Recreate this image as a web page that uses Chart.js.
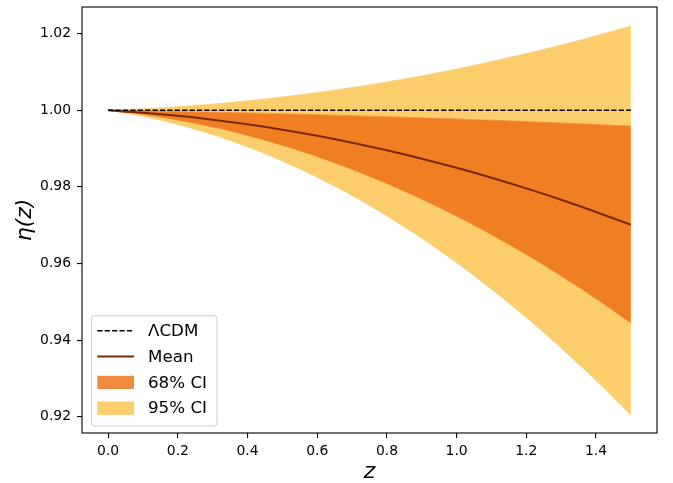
<!DOCTYPE html>
<html>
<head>
<meta charset="utf-8">
<script src="https://cdn.jsdelivr.net/npm/chart.js@4/dist/chart.umd.min.js"></script>
<style>
  html, body { margin: 0; padding: 0; background: #ffffff; }
  #wrap { width: 673px; height: 483px; }
</style>
</head>
<body>
<div id="wrap"><canvas id="c" width="673" height="483"></canvas></div>
<script>
// ---- data ----
const zValues   = [0.0, 0.1, 0.2, 0.3, 0.4, 0.5, 0.6, 0.7, 0.8, 0.9, 1.0, 1.1, 1.2, 1.3, 1.4, 1.5];
const meanEta   = [1.0000, 0.99938, 0.99857, 0.99756, 0.99635, 0.99494, 0.99335, 0.99155, 0.98956, 0.98737, 0.98498, 0.98240, 0.97961, 0.97664, 0.97346, 0.97010];
const upper68   = [1.0000, 0.99986, 0.99970, 0.99951, 0.99931, 0.99910, 0.99886, 0.99860, 0.99833, 0.99804, 0.99773, 0.99740, 0.99705, 0.99669, 0.99630, 0.99590];
const lower68   = [1.0000, 0.99892, 0.99746, 0.99564, 0.99343, 0.99085, 0.98790, 0.98457, 0.98088, 0.97679, 0.97235, 0.96753, 0.96233, 0.95676, 0.95081, 0.94450];
const upper95   = [1.0000, 1.00039, 1.00093, 1.00162, 1.00247, 1.00347, 1.00463, 1.00595, 1.00741, 1.00903, 1.01081, 1.01274, 1.01483, 1.01706, 1.01946, 1.02200];
const lower95   = [1.0000, 0.99841, 0.99629, 0.99363, 0.99045, 0.98673, 0.98249, 0.97772, 0.97240, 0.96657, 0.96020, 0.95330, 0.94587, 0.93791, 0.92942, 0.92040];
const lcdmZ     = [0.0, 1.5];
const lcdmEta   = [1.0, 1.0];
const xTicks      = [0.0, 0.2, 0.4, 0.6, 0.8, 1.0, 1.2, 1.4];
const xTickLabels = ['0.0', '0.2', '0.4', '0.6', '0.8', '1.0', '1.2', '1.4'];
const yTicks      = [0.92, 0.94, 0.96, 0.98, 1.00, 1.02];
const yTickLabels = ['0.92', '0.94', '0.96', '0.98', '1.00', '1.02'];
const legendLabels = ['\u039BCDM', 'Mean', '68% CI', '95% CI'];
const xTitle = 'z';
const yTitle = '\u03B7(z)';

// ---- styles ----
const C95 = '#fccd6b', C95legend = '#fdce6c', C95edge = '#fdd07a';
const C68 = '#ef7f22', C68legend = '#f08a3c', C68edge = '#f3914a';
const CMEAN = '#7a2806';
const FONT = "'DejaVu Sans', sans-serif";

function pts(xs, ys) { return xs.map((x, i) => ({ x: x, y: ys[i] })); }

const framePlugin = {
  id: 'frame',
  afterDraw(chart) {
    const ctx = chart.ctx, a = chart.chartArea;
    ctx.save();
    ctx.strokeStyle = '#000000';
    ctx.lineWidth = 1.1;
    ctx.strokeRect(a.left, a.top, a.right - a.left, a.bottom - a.top);
    ctx.restore();
  }
};

const legendPlugin = {
  id: 'customLegend',
  afterDraw(chart) {
    const ctx = chart.ctx, a = chart.chartArea;
    const bx = a.left + 9.5, by = 315.7, bw = 125.5, bh = 110.3, r = 3;
    ctx.save();
    ctx.beginPath();
    ctx.roundRect(bx, by, bw, bh, r);
    ctx.fillStyle = 'rgba(255,255,255,0.8)';
    ctx.fill();
    ctx.strokeStyle = '#cccccc';
    ctx.lineWidth = 1;
    ctx.stroke();

    const hx0 = a.left + 15.3, hx1 = a.left + 52;
    const tx = a.left + 66;
    const y0 = 330.8, dy = 25.8;
    ctx.font = '16.7px ' + FONT;
    ctx.textBaseline = 'middle';
    ctx.textAlign = 'left';
    legendLabels.forEach((lab, i) => {
      const y = y0 + i * dy;
      if (i === 0) {
        ctx.beginPath();
        ctx.setLineDash([5.2, 2.2]);
        ctx.strokeStyle = '#000000';
        ctx.lineWidth = 1.4;
        ctx.moveTo(hx0, y); ctx.lineTo(hx1, y); ctx.stroke();
        ctx.setLineDash([]);
      } else if (i === 1) {
        ctx.beginPath();
        ctx.strokeStyle = CMEAN;
        ctx.lineWidth = 2;
        ctx.moveTo(hx0, y); ctx.lineTo(hx1, y); ctx.stroke();
      } else {
        ctx.fillStyle = i === 2 ? C68legend : C95legend;
        ctx.fillRect(hx0, y - 6.6, hx1 - hx0, 13.2);
      }
      ctx.fillStyle = '#000000';
      ctx.fillText(lab, tx, y + 0.8);
    });
    ctx.restore();
  }
};

new Chart(document.getElementById('c'), {
  type: 'line',
  data: {
    datasets: [
      { label: legendLabels[0], data: pts(lcdmZ, lcdmEta), borderColor: '#000000', borderWidth: 1.4,
        borderDash: [5.2, 2.2], pointRadius: 0, fill: false, tension: 0 },
      { label: legendLabels[1], data: pts(zValues, meanEta), borderColor: CMEAN, borderWidth: 2,
        pointRadius: 0, fill: false, tension: 0.4 },
      { label: legendLabels[2], data: pts(zValues, upper68), borderColor: C68edge, borderWidth: 0.8,
        backgroundColor: C68, pointRadius: 0, fill: '+1', tension: 0.4 },
      { label: '68 lower', data: pts(zValues, lower68), borderColor: C68edge, borderWidth: 0.8,
        pointRadius: 0, fill: false, tension: 0.4 },
      { label: legendLabels[3], data: pts(zValues, upper95), borderColor: C95edge, borderWidth: 0.8,
        backgroundColor: C95, pointRadius: 0, fill: '+1', tension: 0.4 },
      { label: '95 lower', data: pts(zValues, lower95), borderColor: C95edge, borderWidth: 0.8,
        pointRadius: 0, fill: false, tension: 0.4 }
    ]
  },
  options: {
    responsive: false,
    animation: false,
    devicePixelRatio: 1,
    layout: { padding: { left: 0, top: 7, right: 16, bottom: 0 } },
    plugins: { legend: { display: false }, tooltip: { enabled: false } },
    scales: {
      x: {
        type: 'linear', min: -0.075, max: 1.575,
        afterFit: s => { s.height = 50; s.paddingLeft = 0; s.paddingRight = 0; },
        afterBuildTicks: s => { s.ticks = xTicks.map(v => ({ value: v })); },
        border: { display: false },
        grid: { display: true, drawOnChartArea: false, drawTicks: true, tickLength: 5, color: '#000000', lineWidth: 1.1 },
        ticks: { callback: (v, i) => xTickLabels[i], color: '#000000', padding: 5, maxRotation: 0, autoSkip: false,
                 font: { family: FONT, size: 13.9, lineHeight: 1.2 } },
        title: { display: true, text: xTitle, color: '#000000', padding: 0,
                 font: { family: FONT, size: 22, style: 'italic', lineHeight: 1 } }
      },
      y: {
        type: 'linear', min: 0.91574, max: 1.02697,
        afterFit: s => { s.width = 82; s.paddingTop = 0; s.paddingBottom = 0; },
        afterBuildTicks: s => { s.ticks = yTicks.map(v => ({ value: v })); },
        border: { display: false },
        grid: { display: true, drawOnChartArea: false, drawTicks: true, tickLength: 5, color: '#000000', lineWidth: 1.1 },
        ticks: { callback: (v, i) => yTickLabels[i], color: '#000000', padding: 6, autoSkip: false,
                 font: { family: FONT, size: 13.9, lineHeight: 1.2 } },
        title: { display: true, text: yTitle, color: '#000000', padding: { top: 14, bottom: 0 },
                 font: { family: FONT, size: 22, style: 'italic', lineHeight: 1 } }
      }
    }
  },
  plugins: [framePlugin, legendPlugin]
});
</script>
</body>
</html>
